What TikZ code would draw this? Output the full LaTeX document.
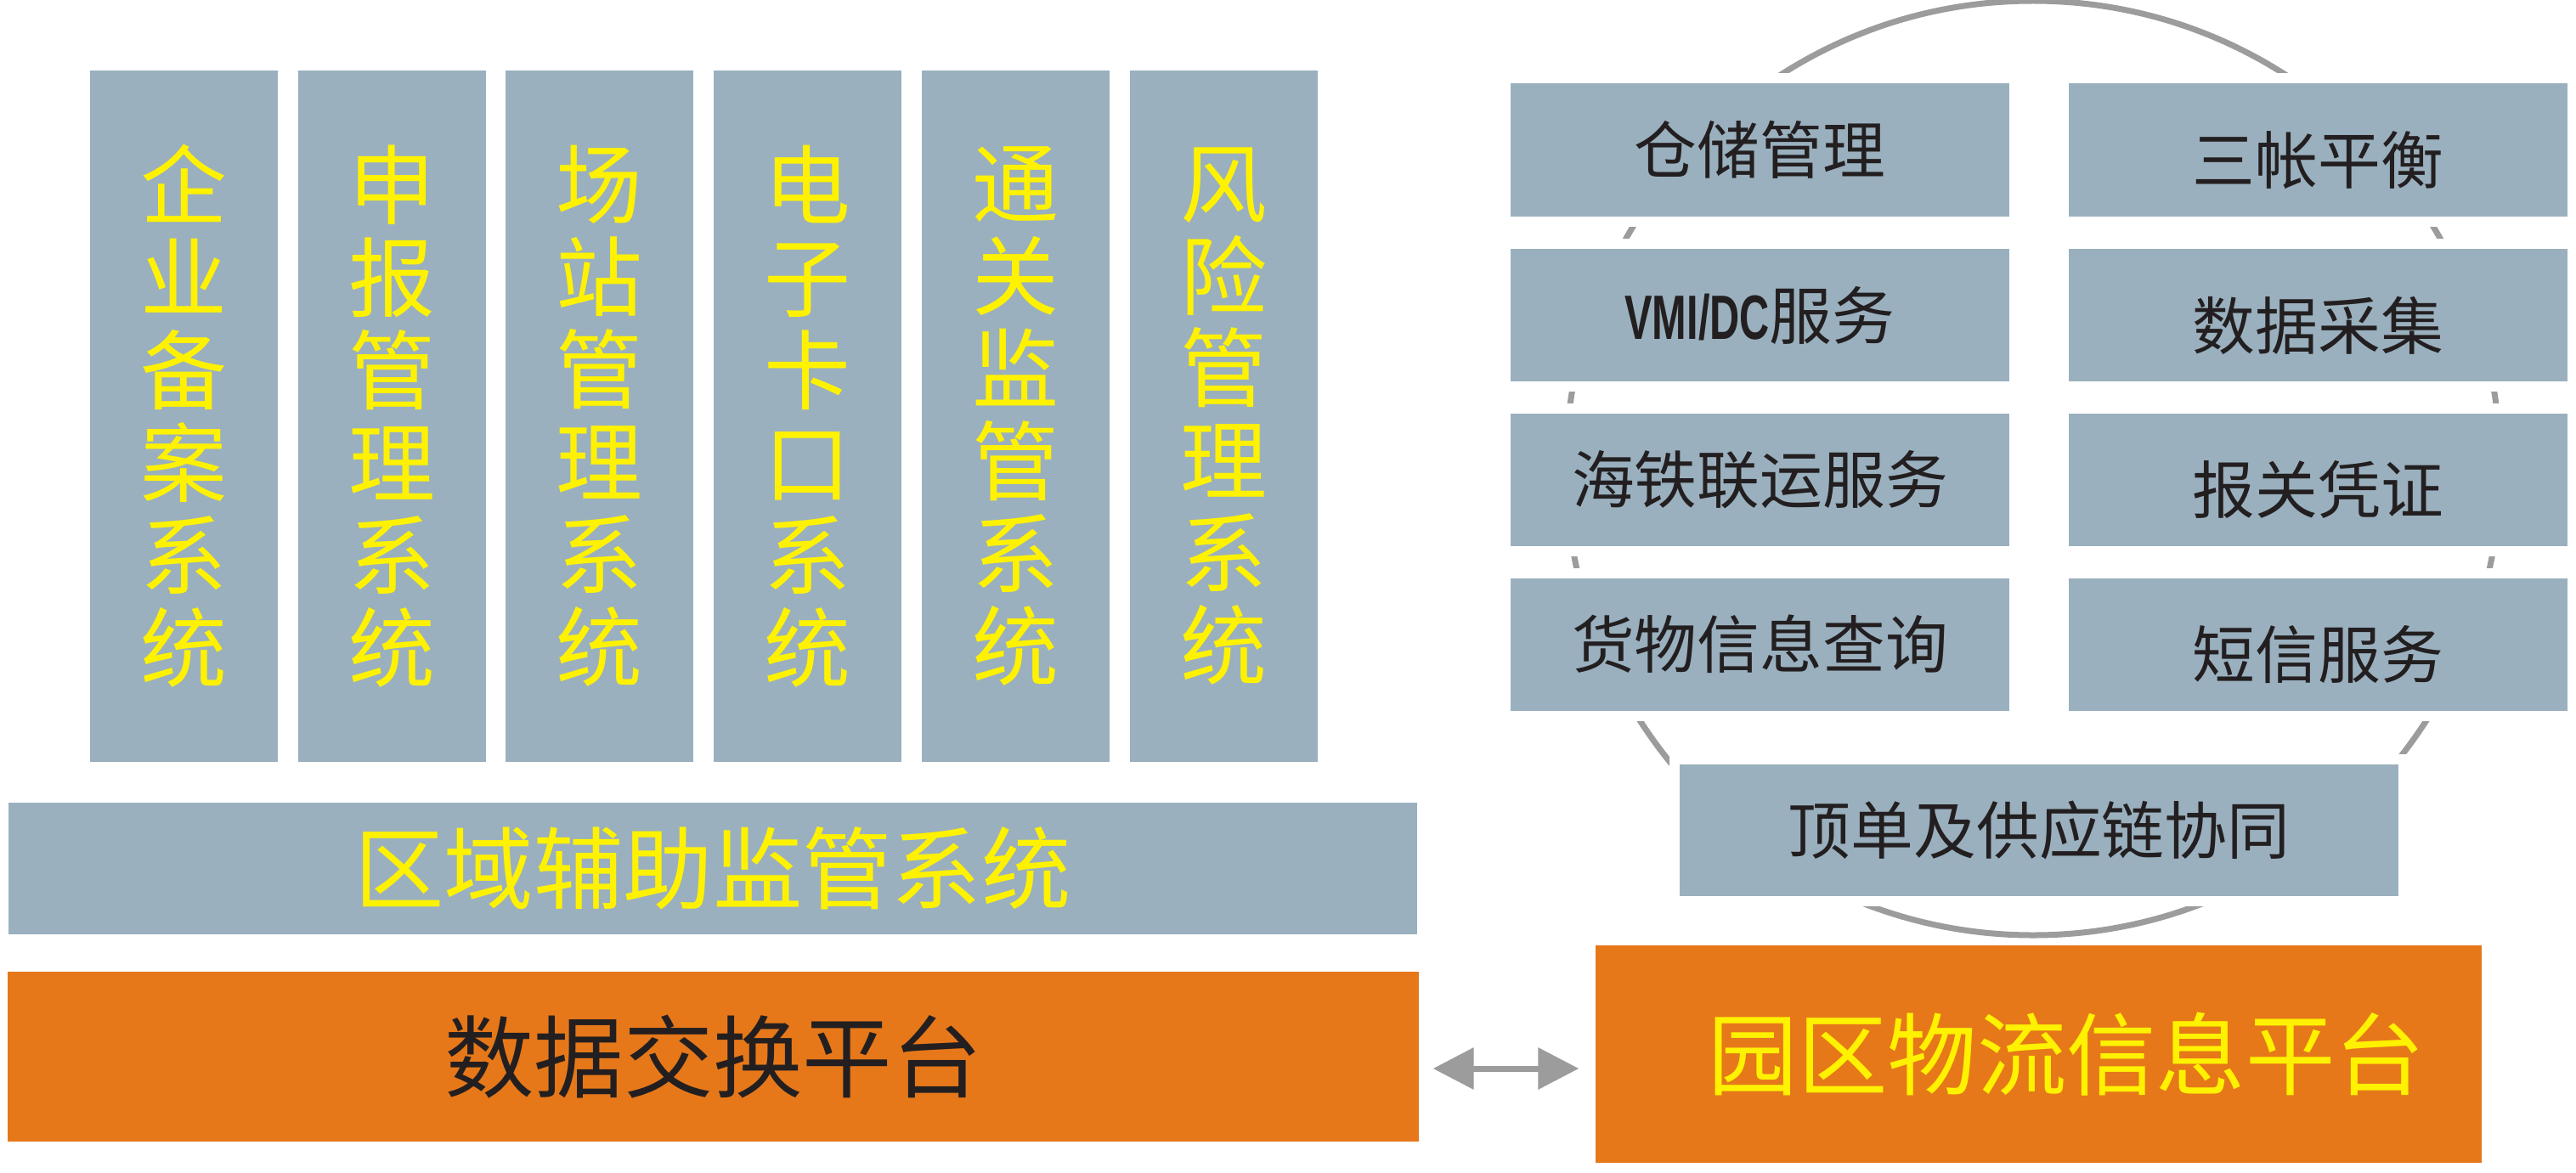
\documentclass[tikz,border=0pt]{standalone}
\usepackage{fontspec}
\usepackage{graphicx}
\usepackage{xcolor}
\usepackage{tikz}
\usetikzlibrary{arrows.meta}
\usetikzlibrary{positioning}
\setmainfont{Noto Sans CJK SC}
\newfontfamily\latinbold{Liberation Sans}
\definecolor{boxgray}{HTML}{9AB0BE}
\definecolor{platorange}{HTML}{E6781A}
\definecolor{txtyellow}{HTML}{FFF200}
\definecolor{txtdark}{HTML}{231F20}
\definecolor{ringgray}{HTML}{9C9C9C}

\begin{document}
\begin{tikzpicture}
	\useasboundingbox (0,0) rectangle (30.32,-13.80);
	% ring behind the service boxes
	\draw[ringgray, line width=0.07cm] (23.93,-5.51) circle (5.50);
	\begin{scope}[every node/.style = {rectangle, inner sep=0pt, fill=boxgray}]
		\begin{scope}[every node/.append style = {minimum width=2.21cm, minimum height=8.14cm, text=txtyellow, align=center, font=\fontsize{29}{31}\selectfont}]
			\node (C1) at (2.165,-4.90) {企\\业\\备\\案\\系\\统};
			\node (C2) at (4.61,-4.90) {申\\报\\管\\理\\系\\统};
			\node (C3) at (7.055,-4.90) {场\\站\\管\\理\\系\\统};
			\node (C4) at (9.505,-4.90) {电\\子\\卡\\口\\系\\统};
			\node (C5) at (11.955,-4.90) {通\\关\\监\\管\\系\\统};
			\node (C6) at (14.405,-4.90) {风\\险\\管\\理\\系\\统};
		\end{scope}
		\node[minimum width=16.58cm, minimum height=1.55cm, text=txtyellow, font=\fontsize{30}{30}\selectfont] (R) at (8.39,-10.225) {区域辅助监管系统};
		\node[fill=platorange, minimum width=16.61cm, minimum height=2.00cm, text=txtdark, font=\fontsize{30}{30}\selectfont] (X) at (8.395,-12.44) {数据交换平台};
		% service boxes on the ring
		\begin{scope}[every node/.append style = {minimum width=5.87cm, minimum height=1.56cm, text=txtdark, font=\fontsize{21}{21}\selectfont, preaction={draw=white, fill=white, line width=0.24cm}}]
			\node (L1) at (20.715,-1.765) {仓储管理};
			\node (L2) at (20.715,-3.71) {{\latinbold\bfseries\scalebox{0.66}[1]{VMI/DC}}服务};
			\node (L3) at (20.715,-5.645) {海铁联运服务};
			\node (L4) at (20.715,-7.585) {货物信息查询};
			\node[text height=0.90cm, text depth=0.10cm] (R1) at (27.285,-1.765) {三帐平衡};
			\node[text height=0.90cm, text depth=0.10cm] (R2) at (27.285,-3.71) {数据采集};
			\node[text height=0.90cm, text depth=0.10cm] (R3) at (27.285,-5.645) {报关凭证};
			\node[text height=0.90cm, text depth=0.10cm] (R4) at (27.285,-7.585) {短信服务};
			\node[minimum width=8.46cm, minimum height=1.55cm] (T) at (24.00,-9.775) {顶单及供应链协同};
		\end{scope}
		\node[fill=platorange, minimum width=10.43cm, minimum height=2.56cm, text=txtyellow, font=\fontsize{30}{30}\selectfont] (P) at (23.995,-12.41) {\hspace{0.66cm}园区物流信息平台};
	\end{scope}
	\coordinate (A1) at ([yshift=-0.14cm]X.east);
	\coordinate (A2) at (A1 -| P.west);
	\begin{scope}[>={Triangle[length=0.48cm, width=0.48cm]}]
		\draw[<->, ringgray, line width=0.07cm, shorten <=0.16cm, shorten >=0.19cm] (A1) -- (A2);
	\end{scope}
\end{tikzpicture}
\end{document}
